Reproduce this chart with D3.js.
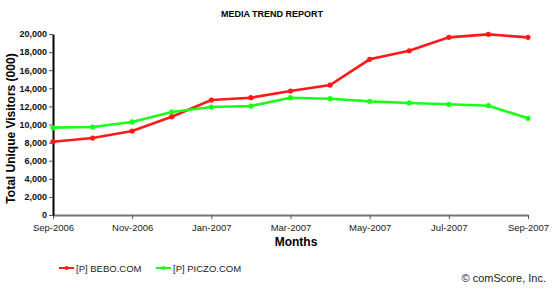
<!DOCTYPE html>
<html>
<head>
<meta charset="utf-8">
<script src="https://cdn.jsdelivr.net/npm/d3@7"></script>
<style>
  body { margin: 0; background: #fff; }
  text { font-family: Arial, "Liberation Sans", sans-serif; }
</style>
</head>
<body>
<div id="chart"></div>
<script>
// Months shown on the x axis
const months = ["Sep-2006","Oct-2006","Nov-2006","Dec-2006","Jan-2007","Feb-2007","Mar-2007",
                "Apr-2007","May-2007","Jun-2007","Jul-2007","Aug-2007","Sep-2007"];
// Total unique visitors (000)
const bebo  = [8100, 8500, 9280, 10860, 12700, 12960, 13700, 14360, 17200, 18150, 19630, 19960, 19630];
const piczo = [9650, 9720, 10280, 11380, 11930, 12040, 12960, 12850, 12560, 12380, 12230, 12080, 10680];
const yTicks = [0, 2000, 4000, 6000, 8000, 10000, 12000, 14000, 16000, 18000, 20000];
const xTickLabels = ["Sep-2006","Nov-2006","Jan-2007","Mar-2007","May-2007","Jul-2007","Sep-2007"];

const width = 560, height = 291;
const margin = {left: 53, right: 32, top: 34, bottom: 76};

const svg = d3.select('#chart').append('svg')
    .attr('width', width)
    .attr('height', height);

const x = d3.scalePoint().domain(months).range([margin.left, width - margin.right]);
const y = d3.scaleLinear().domain([0, 20000]).range([height - margin.bottom, margin.top]);

// title
svg.append('text')
    .attr('x', 272).attr('y', 17)
    .attr('text-anchor', 'middle')
    .style('font-size', '9px').style('font-weight', 'bold')
    .text('MEDIA TREND REPORT');

// x axis
const xAxis = svg.append('g')
    .attr('transform', `translate(0,${y(0)})`)
    .call(d3.axisBottom(x).tickValues(xTickLabels).tickSize(4).tickSizeOuter(0));
xAxis.select('.domain').attr('stroke', '#777').attr('stroke-width', 2);
xAxis.selectAll('.tick line').attr('stroke', '#555');
xAxis.selectAll('.tick text')
    .attr('dy', '0.9em').attr('fill', '#222')
    .style('font-size', '9.5px');

// y axis
const yAxis = svg.append('g')
    .attr('transform', `translate(${margin.left},0)`)
    .call(d3.axisLeft(y).tickValues(yTicks).tickSize(4).tickSizeOuter(0)
        .tickFormat(d3.format(',')));
yAxis.select('.domain').attr('stroke', '#000').attr('stroke-width', 2);
yAxis.selectAll('.tick line').attr('stroke', '#555');
yAxis.selectAll('.tick text')
    .attr('x', -6).attr('fill', '#111')
    .style('font-size', '9px').style('font-weight', 'bold');

// axis titles
svg.append('text')
    .attr('transform', `translate(15,${(y(0) + y(20000)) / 2 + 4}) rotate(-90)`)
    .attr('text-anchor', 'middle')
    .style('font-size', '12px').style('font-weight', 'bold')
    .text('Total Unique Visitors (000)');

svg.append('text')
    .attr('x', 296).attr('y', 246)
    .attr('text-anchor', 'middle')
    .style('font-size', '12px').style('font-weight', 'bold')
    .text('Months');

// series
const series = [
    {name: '[P] BEBO.COM', values: bebo, color: '#ff1a1a', lx: 59},
    {name: '[P] PICZO.COM', values: piczo, color: '#1aff1a', lx: 156}
];

const line = d3.line().x((d, i) => x(months[i])).y(d => y(d));

series.forEach(s => {
    svg.append('path')
        .datum(s.values)
        .attr('fill', 'none')
        .attr('stroke', s.color)
        .attr('stroke-width', 2.6)
        .attr('d', line);

    svg.append('g').selectAll('circle')
        .data(s.values)
        .enter()
        .append('circle')
        .attr('cx', (d, i) => x(months[i]))
        .attr('cy', d => y(d))
        .attr('r', 2.6)
        .attr('fill', s.color);

    // legend
    const lg = svg.append('g').attr('transform', `translate(${s.lx},268)`);
    lg.append('line')
        .attr('x1', 0).attr('x2', 15)
        .attr('stroke', s.color).attr('stroke-width', 2);
    lg.append('circle').attr('cx', 7.5).attr('r', 2).attr('fill', s.color);
    lg.append('text')
        .attr('x', 17).attr('y', 3.5)
        .style('font-size', '9.5px').attr('fill', '#222')
        .text(s.name);
});

// source note
svg.append('text')
    .attr('x', 546).attr('y', 282)
    .attr('text-anchor', 'end')
    .style('font-size', '11px').attr('fill', '#222')
    .text('© comScore, Inc.');
</script>
</body>
</html>
